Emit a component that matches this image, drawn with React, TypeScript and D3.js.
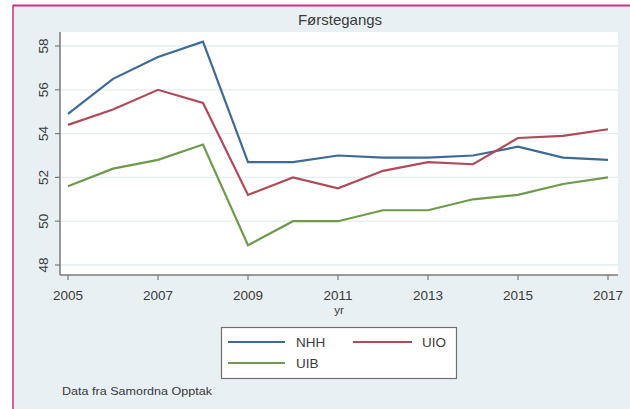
import React from "react";
import * as d3 from "d3";

const years = [2005, 2006, 2007, 2008, 2009, 2010, 2011, 2012, 2013, 2014, 2015, 2016, 2017];
const nhh = [54.9, 56.5, 57.5, 58.2, 52.7, 52.7, 53.0, 52.9, 52.9, 53.0, 53.4, 52.9, 52.8];
const uio = [54.4, 55.1, 56.0, 55.4, 51.2, 52.0, 51.5, 52.3, 52.7, 52.6, 53.8, 53.9, 54.2];
const uib = [51.6, 52.4, 52.8, 53.5, 48.9, 50.0, 50.0, 50.5, 50.5, 51.0, 51.2, 51.7, 52.0];
const xTicks = [2005, 2007, 2009, 2011, 2013, 2015, 2017];
const yTicks = [48, 50, 52, 54, 56, 58];
const seriesNames = ["NHH", "UIO", "UIB"];
const title = "Førstegangs";
const xTitle = "yr";
const note = "Data fra Samordna Opptak";

const colors: Record<string, string> = { NHH: "#3d6a96", UIO: "#b04a58", UIB: "#6e9a4c" };
const font = "'Liberation Sans', Arial, sans-serif";

export default function App() {
  const W = 630, H = 409;
  const plot = { left: 60, right: 618, top: 32, bottom: 275 };
  const x = d3.scaleLinear().domain([2005, 2017]).range([68, 608]);
  const y = d3.scaleLinear().domain([48, 58]).range([265, 46]);
  const data: Record<string, number[]> = { NHH: nhh, UIO: uio, UIB: uib };
  const line = d3.line<[number, number]>().x(d => x(d[0])).y(d => y(d[1]));
  const axisColor = "#7a7a7a";
  const textColor = "#3a3a3a";

  const legendItems = [
    { name: "NHH", x1: 228, x2: 285, y: 342, tx: 296 },
    { name: "UIO", x1: 353, x2: 412, y: 342, tx: 422 },
    { name: "UIB", x1: 228, x2: 285, y: 363, tx: 296 },
  ];

  return (
    <svg width={W} height={H} style={{ position: "absolute", left: 0, top: 0 }} fontFamily={font}>
      <rect x={0} y={0} width={W} height={H} fill="#ffffff" />
      <rect x={13} y={5} width={W - 13} height={H - 5} fill="#e9f0f3" />
      <line x1={13} y1={5.5} x2={W} y2={5.5} stroke="#d42a80" strokeWidth={2} />
      <line x1={13} y1={5} x2={13} y2={H} stroke="#d42a80" strokeWidth={1.5} />
      <rect x={plot.left} y={plot.top} width={plot.right - plot.left} height={plot.bottom - plot.top} fill="#ffffff" />
      {yTicks.map(t => (
        <line key={"g" + t} x1={plot.left} x2={plot.right} y1={y(t)} y2={y(t)} stroke="#e4ecee" strokeWidth={1.3} />
      ))}
      {seriesNames.map(n => (
        <path key={n} d={line(years.map((yr, i) => [yr, data[n][i]] as [number, number])) || ""}
          fill="none" stroke={colors[n]} strokeWidth={2.2} strokeLinejoin="miter" />
      ))}
      <line x1={plot.left} x2={plot.left} y1={plot.top} y2={plot.bottom} stroke={axisColor} strokeWidth={1.5} />
      <line x1={plot.left} x2={plot.right} y1={plot.bottom} y2={plot.bottom} stroke={axisColor} strokeWidth={1.5} />
      {yTicks.map(t => (
        <g key={"y" + t}>
          <line x1={plot.left - 5} x2={plot.left} y1={y(t)} y2={y(t)} stroke={axisColor} strokeWidth={1.2} />
          <text transform={`translate(48,${y(t)}) rotate(-90)`} textAnchor="middle" fontSize={13.5} fill={textColor}>{t}</text>
        </g>
      ))}
      {xTicks.map(t => (
        <g key={"x" + t}>
          <line x1={x(t)} x2={x(t)} y1={plot.bottom} y2={plot.bottom + 5} stroke={axisColor} strokeWidth={1.2} />
          <text x={x(t)} y={300} textAnchor="middle" fontSize={13.5} fill={textColor}>{t}</text>
        </g>
      ))}
      <text x={(plot.left + plot.right) / 2} y={314} textAnchor="middle" fontSize={11.5} fill={textColor}>{xTitle}</text>
      <text x={(plot.left + plot.right) / 2 + 1} y={25} textAnchor="middle" fontSize={15} fill={textColor}>{title}</text>
      <rect x={221.5} y={327.5} width={235} height={51} fill="#ffffff" stroke="#707070" strokeWidth={1.2} />
      {legendItems.map(li => (
        <g key={li.name}>
          <line x1={li.x1} x2={li.x2} y1={li.y} y2={li.y} stroke={colors[li.name]} strokeWidth={2.2} />
          <text x={li.tx} y={li.y + 5} fontSize={13.5} fill={textColor}>{li.name}</text>
        </g>
      ))}
      <text x={62} y={395} fontSize={11} fill={textColor} textLength={150} lengthAdjust="spacingAndGlyphs">{note}</text>
    </svg>
  );
}
